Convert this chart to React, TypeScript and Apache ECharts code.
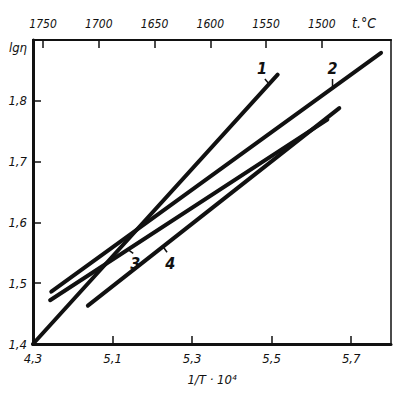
import React, { useEffect, useRef } from "react";
import * as echarts from "echarts";

// lines: [1/T·10^4, lgη]
const line1 = [[4.9, 1.4], [5.515, 1.843]];
const line2 = [[4.946, 1.486], [5.775, 1.879]];
const line3 = [[4.943, 1.472], [5.64, 1.769]];
const line4 = [[5.038, 1.463], [5.67, 1.788]];
const lineNames = ["1", "2", "3", "4"];
const labelPoints = [[5.476, 1.853], [5.653, 1.853], [5.157, 1.533], [5.245, 1.533]];
const leaders = [
  [[5.483, 1.836], [5.493, 1.828]],
  [[5.653, 1.836], [5.653, 1.823]],
  [[5.137, 1.556], [5.152, 1.549]],
  [[5.227, 1.560], [5.237, 1.551]],
];
const xTicks = [5.1, 5.3, 5.5, 5.7];
const xLabels = [4.9, 5.1, 5.3, 5.5, 5.7];
const yTicks = [1.5, 1.6, 1.7, 1.8];
const yLabels = [1.4, 1.5, 1.6, 1.7, 1.8, 1.9];
const tempTicks = [1750, 1700, 1650, 1600, 1550, 1500];

const FONT = '"DejaVu Sans Condensed", "DejaVu Sans", sans-serif';
const comma = (v: number) => v.toFixed(1).replace(".", ",");

export default function App() {
  const ref = useRef<HTMLDivElement>(null);
  useEffect(() => {
    if (!ref.current) return;
    const chart = echarts.init(ref.current, null, { renderer: "svg" });
    const txt = { color: "#111", fontFamily: FONT, fontStyle: "italic" as const, fontSize: 13 };
    const lines = [line1, line2, line3, line4];
    chart.setOption({
      animation: false,
      backgroundColor: "#fff",
      grid: { left: 33, right: 19, top: 40, bottom: 50, show: true, borderColor: "#111", borderWidth: 1.5, backgroundColor: "transparent" },
      xAxis: [
        {
          type: "value", min: 4.9, max: 5.8, position: "bottom",
          axisLine: { show: true, lineStyle: { color: "#111", width: 3 } },
          axisTick: { show: true, inside: true, length: 8, customValues: xTicks, lineStyle: { color: "#111", width: 1.5 } },
          axisLabel: { ...txt, customValues: xLabels, margin: 8, formatter: (v: number) => (Math.abs(v - 4.9) < 1e-6 ? "4,3" : comma(v)) },
          splitLine: { show: false },
          name: "1/T · 10⁴", nameLocation: "middle", nameGap: 29, nameTextStyle: { ...txt },
        },
        {
          type: "value", min: 1438, max: 1759, inverse: true, position: "top",
          axisLine: { show: true, lineStyle: { color: "#111", width: 2 } },
          axisTick: { show: true, inside: true, length: 8, customValues: tempTicks, lineStyle: { color: "#111", width: 1.5 } },
          axisLabel: { ...txt, fontSize: 12, customValues: tempTicks, margin: 10, formatter: (v: number) => String(v) },
          splitLine: { show: false },
        },
      ],
      yAxis: {
        type: "value", min: 1.4, max: 1.9,
        axisLine: { show: true, lineStyle: { color: "#111", width: 3 } },
        axisTick: { show: true, inside: true, length: 8, customValues: yTicks, lineStyle: { color: "#111", width: 1.5 } },
        axisLabel: {
          ...txt, customValues: yLabels, margin: 6,
          formatter: (v: number) => (Math.abs(v - 1.9) < 1e-6 ? "{n|lgη}" : comma(v)),
          rich: { n: { ...txt, padding: [14, 0, 0, 0] } },
        },
        splitLine: { show: false },
      },
      graphic: [
        { type: "text", left: 352, top: 16, style: { text: "t.°C", fill: "#111", font: `italic 14px ${FONT}` } },
      ],
      series: [
        ...lines.map((d, i) => ({
          type: "line", name: lineNames[i], data: d, showSymbol: false, symbol: "none",
          lineStyle: { color: "#111", width: 4, cap: "round" }, silent: true,
        })),
        ...leaders.map((d) => ({
          type: "line", data: d, showSymbol: false, symbol: "none",
          lineStyle: { color: "#111", width: 1.5 }, silent: true,
        })),
        {
          type: "scatter", symbolSize: 0, silent: true,
          itemStyle: { opacity: 1, color: "#111" },
          data: labelPoints.map((p, i) => ({ value: p, name: lineNames[i] })),
          label: { show: true, position: "inside", formatter: (p: any) => p.name, ...txt, fontSize: 16, fontWeight: "bold" },
        },
      ],
    });
    return () => chart.dispose();
  }, []);
  return <div ref={ref} style={{ position: "fixed", left: 0, top: 0, width: 410, height: 394 }} />;
}
